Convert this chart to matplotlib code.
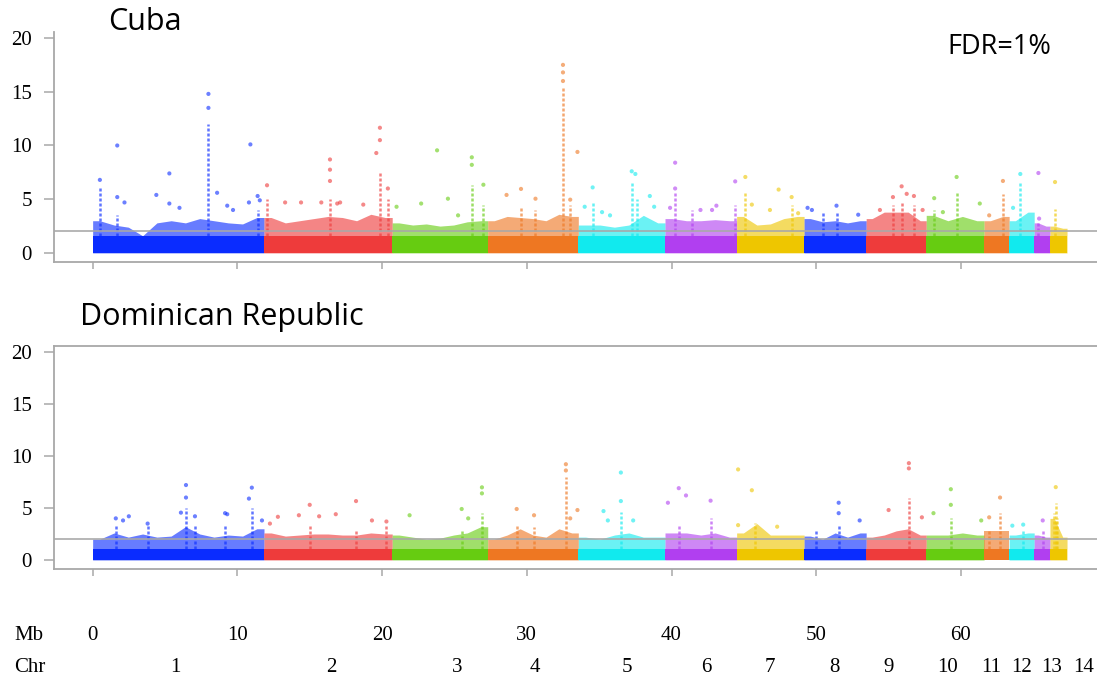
import numpy as np
import matplotlib
matplotlib.use("Agg")
import matplotlib.pyplot as plt
from matplotlib.transforms import blended_transform_factory

# ---------------- data ----------------
chromosomes = ["1", "2", "3", "4", "5", "6", "7", "8", "9", "10", "11", "12", "13", "14"]
chrom_ends = [11.84, 20.70, 27.30, 33.56, 39.55, 44.50, 49.16, 53.45, 57.60, 61.60, 63.33, 65.06, 66.15, 67.33]
chrom_colors = ["#0a2cff", "#ee3b3b", "#66cc11", "#ee7722", "#11eaee", "#b13ff0", "#eec600"]

mb_ticks = [0, 10, 20, 30, 40, 50, 60]
chr_label_pos = [5.69, 16.46, 25.17, 30.56, 36.92, 42.39, 46.81, 51.23, 55.03, 59.04, 62.08, 64.22, 66.29, 68.5]
fdr_threshold = 2.0

# Cuba: dense band height, noisy envelope per 1-Mb bin, spike columns, scattered high points
cuba_band = 1.6
cuba_envelope = [
    [3.0, 2.6, 2.4, 1.6, 2.8, 3.0, 2.8, 3.2, 3.0, 2.8, 2.7, 3.3],
    [3.3, 2.8, 3.0, 3.2, 3.4, 3.3, 3.0, 3.6, 3.3],
    [2.8, 2.6, 2.7, 2.5, 2.6, 2.9, 3.0],
    [3.0, 3.4, 3.3, 3.2, 3.0, 3.6, 3.4],
    [2.6, 2.6, 2.4, 2.6, 3.5, 2.8],
    [3.2, 3.0, 3.0, 3.1, 3.0],
    [3.4, 2.6, 2.7, 3.2, 3.4],
    [3.2, 2.9, 3.0, 2.8, 3.0],
    [3.2, 3.8, 3.8, 3.8, 3.0],
    [3.5, 3.0, 3.4, 3.0],
    [3.0, 3.4],
    [3.0, 3.8],
    [2.8, 2.5],
    [2.5, 2.3],
]
cuba_spike_pos = [0.5, 8.0, 11.45, 1.7, 12.05, 16.4, 19.85, 20.4, 26.2, 27.0, 32.5, 30.6, 29.6, 33.0,
                  34.55, 37.25, 37.6, 40.25, 44.4, 41.4, 45.1, 48.3, 50.5, 51.4, 55.3, 55.9, 56.75,
                  58.15, 59.7, 62.9, 64.1, 65.35, 66.5]
cuba_spike_top = [6.0, 12.0, 4.0, 3.5, 5.0, 5.0, 7.5, 5.0, 6.3, 4.5, 15.5, 4.0, 4.2, 4.5,
                  4.8, 6.6, 5.0, 5.6, 4.5, 4.0, 5.8, 4.5, 3.8, 3.8, 4.5, 4.8, 4.5,
                  4.0, 5.6, 5.5, 6.5, 3.0, 4.1]
cuba_pt_pos = [0.5, 1.7, 1.7, 2.2, 4.4, 5.3, 5.3, 6.0, 8.0, 8.0, 8.6, 9.3, 9.7, 10.8, 10.9, 11.4, 11.55,
               12.05, 13.3, 14.4, 15.8, 16.4, 16.4, 16.4, 16.9, 17.1, 18.7, 19.6, 19.85, 19.85, 20.4,
               21.0, 22.7, 23.8, 24.55, 25.25, 26.2, 26.2, 27.0,
               28.6, 29.6, 30.6, 32.5, 32.5, 32.5, 33.5, 33.0,
               34.0, 34.55, 35.2, 35.75, 37.25, 37.5, 38.5, 38.8,
               40.25, 40.25, 39.9, 42.0, 42.8, 43.1, 44.4,
               45.1, 45.55, 46.8, 47.4, 48.3, 48.75,
               49.4, 49.7, 51.4, 52.9,
               54.4, 55.3, 55.9, 56.25, 56.75, 57.35,
               58.15, 58.75, 59.7, 61.3,
               61.95, 62.9, 63.6, 64.1, 65.35, 65.4, 66.5]
cuba_pt_val = [6.8, 10.0, 5.2, 4.7, 5.4, 7.4, 4.6, 4.2, 13.5, 14.8, 5.6, 4.4, 4.0, 4.7, 10.1, 5.3, 4.9,
               6.3, 4.7, 4.7, 4.7, 8.7, 7.75, 6.7, 4.6, 4.7, 4.5, 9.3, 11.65, 10.5, 6.0,
               4.3, 4.6, 9.55, 5.05, 3.5, 8.9, 8.2, 6.35,
               5.4, 5.96, 5.05, 17.5, 16.8, 16.0, 9.4, 4.96,
               4.3, 6.1, 3.8, 3.5, 7.6, 7.35, 5.3, 4.3,
               8.4, 6.0, 4.2, 4.0, 4.0, 4.4, 6.66,
               7.07, 4.5, 4.0, 5.9, 5.2, 3.7,
               4.2, 4.0, 4.4, 3.56,
               4.0, 5.2, 6.2, 5.5, 5.3, 4.0,
               5.1, 3.8, 7.07, 4.6,
               3.5, 6.7, 4.2, 7.35, 7.44, 3.2, 6.6]

# Dominican Republic
dr_band = 1.1
dr_envelope = [
    [2.0, 2.6, 2.2, 2.5, 2.2, 2.3, 3.2, 2.5, 2.2, 2.4, 2.3, 3.0],
    [2.6, 2.3, 2.4, 2.5, 2.5, 2.4, 2.4, 2.6, 2.5],
    [2.4, 2.2, 2.0, 2.1, 2.4, 2.6, 3.2],
    [2.0, 2.4, 3.0, 2.4, 2.2, 3.0, 2.6],
    [2.2, 2.0, 2.4, 2.6, 2.2, 2.2],
    [2.6, 2.6, 2.4, 2.6, 2.2],
    [2.6, 3.5, 2.4, 2.4, 2.4],
    [2.3, 2.0, 2.6, 2.2, 2.6],
    [2.2, 2.4, 2.8, 3.0, 2.4],
    [2.4, 2.4, 2.6, 2.4],
    [2.8, 2.8],
    [2.4, 2.6],
    [2.4, 2.2],
    [4.0, 2.2],
]
dr_spike_pos = [1.6, 3.8, 6.45, 7.07, 9.15, 11.0, 15.0, 18.2, 20.3, 26.9, 25.5, 29.3, 30.5, 32.7,
                36.5, 42.7, 40.5, 45.8, 51.55, 50.0, 56.4, 59.3, 62.7, 61.95, 64.3, 65.65,
                66.55, 66.45, 66.65]
dr_spike_top = [3.5, 3.3, 5.0, 3.5, 3.5, 5.0, 3.5, 3.0, 3.5, 4.5, 3.0, 3.5, 3.2, 8.0,
                4.6, 4.0, 3.5, 3.6, 3.5, 3.0, 6.0, 4.0, 4.5, 3.0, 3.0, 3.0,
                5.5, 4.5, 4.0]
dr_pt_pos = [1.6, 2.1, 2.5, 3.8, 6.1, 6.45, 6.45, 7.07, 9.15, 9.3, 10.8, 11.0, 11.7,
             12.25, 12.8, 14.25, 15.0, 15.65, 16.8, 18.2, 19.3, 20.3,
             21.9, 25.5, 25.95, 26.9, 26.9,
             29.3, 30.5, 32.7, 32.7, 33.0, 33.5,
             35.3, 35.6, 36.5, 36.5, 37.35,
             39.75, 40.5, 41.0, 42.7,
             44.6, 44.6, 45.55, 47.3,
             51.55, 51.55, 53.0,
             55.0, 56.4, 56.4, 57.3,
             58.1, 59.3, 59.3, 61.4,
             61.95, 62.7, 63.55, 64.3, 65.65, 66.55]
dr_pt_val = [4.0, 3.8, 4.2, 3.5, 4.55, 7.2, 6.0, 4.2, 4.5, 4.4, 5.9, 6.95, 3.8,
             3.5, 4.15, 4.3, 5.3, 4.2, 4.4, 5.66, 3.8, 3.7,
             4.3, 4.9, 4.0, 6.98, 6.4,
             4.9, 4.3, 9.2, 8.6, 4.0, 4.8,
             4.7, 3.8, 8.4, 5.66, 3.8,
             5.5, 6.9, 6.2, 5.7,
             8.7, 3.35, 6.7, 3.2,
             5.5, 4.5, 3.8,
             4.8, 9.3, 8.8, 4.1,
             4.5, 6.8, 5.3, 3.8,
             4.1, 6.0, 3.3, 3.4, 3.8, 7.0]

# ---------------- drawing ----------------
W, H = 1097, 678
fig = plt.figure(figsize=(W / 100, H / 100), dpi=100)

serif = ["Liberation Serif", "DejaVu Serif"]
sans = ["Open Sans", "DejaVu Sans"]
grey = "#a8a8a8"

chrom_starts = [0.0] + chrom_ends[:-1]


def color_of(pos):
    idx = int(np.searchsorted(chrom_ends, pos, side="left"))
    idx = min(idx, len(chrom_ends) - 1)
    return chrom_colors[idx % len(chrom_colors)]


def manhattan(ax, band, envelope, sp_pos, sp_top, pt_pos, pt_val):
    for i, (s, e) in enumerate(zip(chrom_starts, chrom_ends)):
        c = chrom_colors[i % len(chrom_colors)]
        env = list(envelope[i])
        n = len(env)
        centers = list(s + (np.arange(n) + 0.5) * (e - s) / n)
        xs = [s] + centers + [e]
        ys = [env[0]] + env + [env[-1]]
        ax.fill_between(xs, 0, ys, color=c, alpha=0.62, lw=0, zorder=2)
        ax.fill_between([s, e], 0, band, color=c, lw=0, zorder=3)
    for p, t in zip(sp_pos, sp_top):
        ax.vlines(p, band, t, color=color_of(p), lw=1.8, alpha=0.65, zorder=3,
                  linestyles=(0, (1.2, 0.8)))
    ax.scatter(pt_pos, pt_val, s=9, c=[color_of(p) for p in pt_pos], alpha=0.6,
               linewidths=0, zorder=4)
    ax.axhline(fdr_threshold, color=grey, lw=1.3, zorder=5, alpha=0.9)


def style(ax, ylim, top_spine):
    ax.set_xlim(-2.67, 69.4)
    ax.set_ylim(*ylim)
    ax.spines["right"].set_visible(False)
    ax.spines["top"].set_visible(top_spine)
    for side in ["left", "bottom", "top"]:
        ax.spines[side].set_color(grey)
        ax.spines[side].set_linewidth(1.3)
    ax.set_yticks([0, 5, 10, 15, 20])
    ax.set_xticks(mb_ticks)
    ax.tick_params(axis="y", length=7, width=1.1, color=grey, pad=9, labelsize=15)
    ax.tick_params(axis="x", length=5, width=1.1, color=grey, labelbottom=False)
    for lab in ax.get_yticklabels():
        lab.set_fontfamily(serif)


ax1 = fig.add_axes([54 / W, 1 - 262 / H, 1 - 54 / W, 230 / H])
manhattan(ax1, cuba_band, cuba_envelope, cuba_spike_pos, cuba_spike_top, cuba_pt_pos, cuba_pt_val)
style(ax1, (-0.84, 20.56), False)

ax2 = fig.add_axes([54 / W, 1 - 569.3 / H, 1 - 54 / W, 223.6 / H])
manhattan(ax2, dr_band, dr_envelope, dr_spike_pos, dr_spike_top, dr_pt_pos, dr_pt_val)
style(ax2, (-0.89, 20.58), True)

fig.text(145 / W, 1 - 22 / H, "Cuba", family=sans, fontsize=22, ha="center", va="center")
fig.text(80 / W, 1 - 317 / H, "Dominican Republic", family=sans, fontsize=22, ha="left", va="center")
fig.text(947 / W, 1 - 47 / H, "FDR=1%", family=sans, fontsize=19.5, ha="left", va="center")

tr = blended_transform_factory(ax2.transData, fig.transFigure)
fig.text(14 / W, 1 - 635 / H, "Mb", family=serif, fontsize=15, ha="left", va="center")
for m in mb_ticks:
    fig.text(m, 1 - 635 / H, str(m), family=serif, fontsize=15, ha="center", va="center", transform=tr)
fig.text(14 / W, 1 - 667 / H, "Chr", family=serif, fontsize=15, ha="left", va="center")
for name, p in zip(chromosomes, chr_label_pos):
    fig.text(p, 1 - 667 / H, name, family=serif, fontsize=15, ha="center", va="center", transform=tr)

fig.savefig("out.png", dpi=100)
